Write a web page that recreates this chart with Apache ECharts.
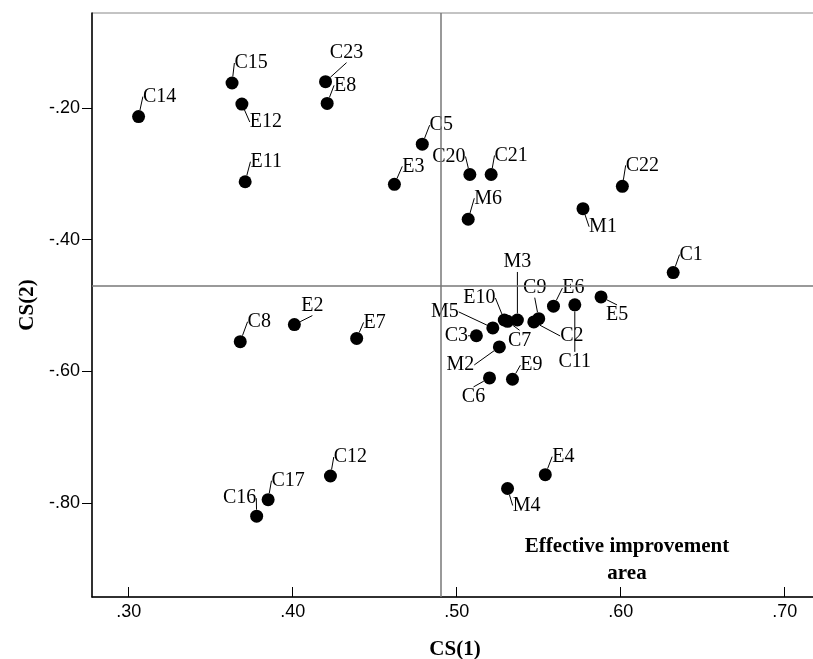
<!DOCTYPE html>
<html>
<head>
<meta charset="utf-8">
<script src="https://cdn.jsdelivr.net/npm/echarts@6/dist/echarts.min.js"></script>
<style>
  html, body { margin: 0; padding: 0; background: #fff; }
  #main { width: 813px; height: 659px; }
</style>
</head>
<body>
<div id="main"></div>
<script>
// point names and CS(1) / CS(2) values
var names = ['C14', 'C15', 'E12', 'C23', 'E8', 'E11', 'E3', 'C5', 'C20', 'C21',
  'M6', 'M1', 'C22', 'C1', 'E6', 'C11', 'E5', 'M5', 'E10', 'C7',
  'M3', 'C9', 'C2', 'M2', 'C3', 'C6', 'E9', 'C8', 'E2', 'E7',
  'C12', 'C17', 'C16', 'E4', 'M4'];
var cs1 = [0.306, 0.363, 0.369, 0.420, 0.421, 0.371, 0.462, 0.479, 0.508, 0.521,
  0.507, 0.577, 0.601, 0.632, 0.559, 0.572, 0.588, 0.522, 0.529, 0.531,
  0.537, 0.550, 0.547, 0.526, 0.512, 0.520, 0.534, 0.368, 0.401, 0.439,
  0.423, 0.385, 0.378, 0.554, 0.531];
var cs2 = [-0.213, -0.162, -0.194, -0.160, -0.193, -0.312, -0.316, -0.255, -0.301, -0.301,
  -0.369, -0.353, -0.319, -0.450, -0.501, -0.499, -0.487, -0.534, -0.522, -0.524,
  -0.522, -0.520, -0.525, -0.563, -0.546, -0.610, -0.612, -0.555, -0.529, -0.550,
  -0.759, -0.795, -0.820, -0.757, -0.778];

// reference lines (means)
var refX = 0.487;
var refY = -0.470;

var xTicks = [0.3, 0.4, 0.5, 0.6, 0.7];
var yTicks = [-0.2, -0.4, -0.6, -0.8];

// label offsets in px (label centre relative to the dot)
var labelOffsets = [
  [21, -20], [19, -20], [24, 18], [21, -29], [18, -18], [21, -20], [19, -18], [19, -19], [-21, -18], [20, -19],
  [20, -21], [20, 18], [20, -21], [18, -18], [20, -18], [0, 57], [16, 18], [-48, -16], [-25, -22], [12, 19],
  [0, -58], [-4, -31], [38, 14], [-39, 18], [-20, 0], [-16, 19], [19, -14], [19, -20], [18, -19], [18, -16],
  [20, -19], [20, -19], [-17, -18], [18, -18], [19, 17]
];

var points = names.map(function (n, i) {
  return { name: n, value: [cs1[i], cs2[i]] };
});

function fmt(v) {
  return v.toFixed(2).replace('0.', '.');
}

var chart = echarts.init(document.getElementById('main'));

var option = {
  animation: false,
  backgroundColor: '#fff',
  grid: {
    left: 92,
    right: -5,
    top: 13,
    bottom: 62,
    containLabel: false,
    outerBoundsMode: 'none',
    show: true,
    borderColor: '#888',
    borderWidth: 1
  },
  xAxis: {
    type: 'value',
    min: 0.2776,
    max: 0.7203,
    name: 'CS(1)',
    nameLocation: 'middle',
    nameGap: 42,
    nameTextStyle: {
      fontFamily: 'Liberation Serif',
      fontWeight: 'bold',
      fontSize: 21,
      color: '#000'
    },
    axisLine: { lineStyle: { color: '#000', width: 1.5 } },
    axisTick: {
      inside: true,
      length: 10,
      customValues: xTicks,
      lineStyle: { color: '#000' }
    },
    axisLabel: {
      customValues: xTicks,
      formatter: fmt,
      margin: 6,
      fontFamily: 'Liberation Sans',
      fontSize: 18,
      color: '#000'
    },
    splitLine: { show: false }
  },
  yAxis: {
    type: 'value',
    min: -0.9428,
    max: -0.0557,
    name: 'CS(2)',
    nameLocation: 'middle',
    nameGap: 54,
    nameTextStyle: {
      fontFamily: 'Liberation Serif',
      fontWeight: 'bold',
      fontSize: 21,
      color: '#000'
    },
    axisLine: { lineStyle: { color: '#000', width: 1.5 } },
    axisTick: {
      length: 10,
      customValues: yTicks,
      lineStyle: { color: '#000' }
    },
    axisLabel: {
      customValues: yTicks,
      formatter: fmt,
      margin: 12,
      fontFamily: 'Liberation Sans',
      fontSize: 18,
      color: '#000'
    },
    splitLine: { show: false }
  },
  graphic: [{
    type: 'text',
    x: 627,
    y: 533,
    style: {
      text: 'Effective improvement\narea',
      textAlign: 'center',
      fontFamily: 'Liberation Serif',
      fontWeight: 'bold',
      fontSize: 21,
      lineHeight: 27,
      fill: '#000'
    }
  }],
  series: [{
    type: 'scatter',
    data: points,
    symbol: 'circle',
    symbolSize: 13,
    itemStyle: { color: '#000', opacity: 1 },
    label: {
      show: true,
      position: 'inside',
      formatter: '{b}',
      fontFamily: 'Liberation Serif',
      fontSize: 20,
      color: '#000'
    },
    labelLayout: function (p) {
      var o = labelOffsets[p.dataIndex];
      return { dx: o[0], dy: o[1] };
    },
    labelLine: {
      show: true,
      lineStyle: { color: '#000', width: 1 }
    },
    markLine: {
      silent: true,
      symbol: 'none',
      label: { show: false },
      lineStyle: { color: '#777', type: 'solid', width: 1.5 },
      data: [{ xAxis: refX }, { yAxis: refY }]
    }
  }]
};

chart.setOption(option);
</script>
</body>
</html>
